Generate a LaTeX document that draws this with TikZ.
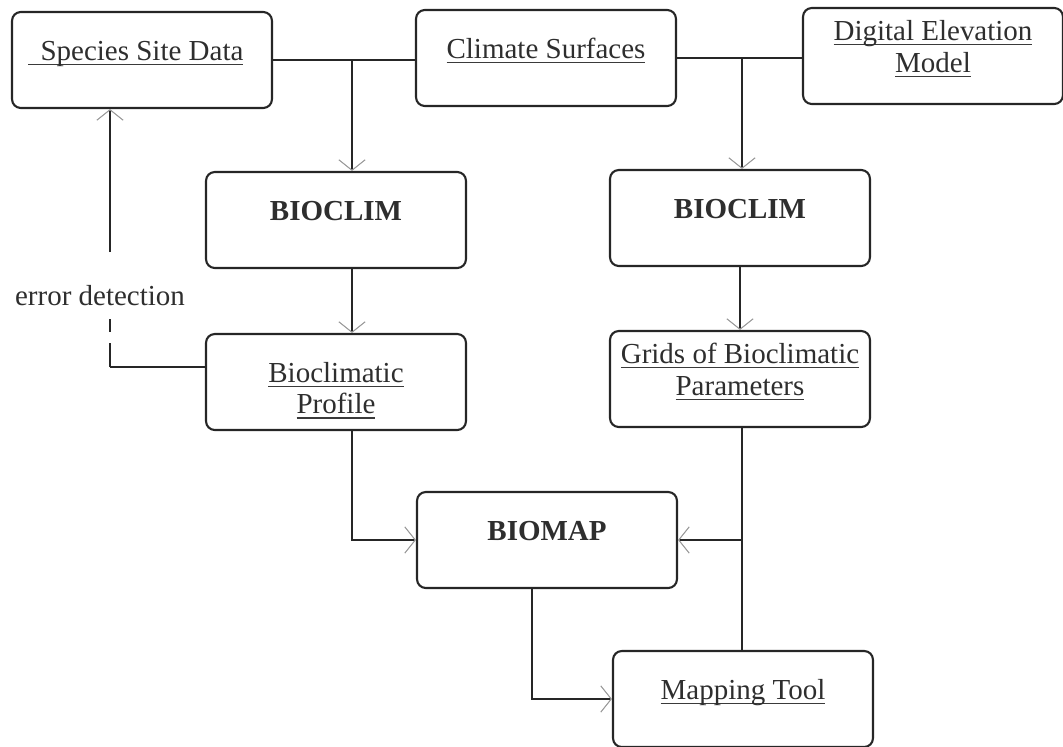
\documentclass[tikz,border=0pt]{standalone}
\usepackage{fontspec}
\setmainfont{Liberation Serif}
\usetikzlibrary{arrows.meta,positioning,calc}
\definecolor{ink}{HTML}{262626}
\definecolor{txt}{HTML}{2E2E2E}
\definecolor{barb}{HTML}{9A9A9A}
\definecolor{ulc}{HTML}{3A3A3A}
\newsavebox\ulbox
\newcommand{\undl}[1]{\leavevmode\sbox\ulbox{\spaceskip=0pt\xspaceskip=0pt #1}\rlap{\textcolor{ulc}{\rule[-2.8pt]{\wd\ulbox}{0.8pt}}}\usebox\ulbox}
\tikzset{
  box/.style={draw=ink,line width=1.2pt,rounded corners=5pt,minimum width=5.2cm,minimum height=1.92cm,text width=4.9cm,align=center,inner sep=0pt,text height=14pt,text depth=14pt,font=\fontsize{16.5}{18.2}\selectfont,text=txt},
  boxhi/.style={box,text height=5pt,text depth=23pt},
  wire/.style={draw=ink,line width=0.9pt},
  flow/.style={wire,-{Straight Barb[length=6pt,width=15pt,line width=0.6pt,color=barb]}},
  lab/.style={font=\fontsize{16.5}{19}\selectfont,text=txt,inner sep=1pt}
}
\begin{document}
\begin{tikzpicture}[x=0.02cm,y=-0.02cm]
\useasboundingbox (0,0) rectangle (1063,747);
% ---------------- input row ----------------
\node[box] (species) at (142,60) {\leavevmode\llap{\textcolor{ulc}{\rule[-2.8pt]{7pt}{0.8pt}}}\undl{Species Site Data}};
\node[box] (climate) at (546,58) {\undl{Climate Surfaces}};
\node[boxhi] (dem) at (933,56) {\undl{Digital Elevation}\\\undl{Model}};
% ---------------- models ----------------
\node[box] (bioclimL) at (336,220) {\textbf{BIOCLIM}};
\node[box] (bioclimR) at (740,218) {\textbf{BIOCLIM}};
\node[box] (profile) at (336,382) {\undl{Bioclimatic}\\\undl{Profile}};
\node[boxhi] (grids) at (740,379) {\undl{Grids of Bioclimatic}\\\undl{Parameters}};
\node[box] (biomap) at (547,540) {\textbf{BIOMAP}};
\node[box] (mapping) at (743,699) {\undl{Mapping Tool}};
\node[lab] (err) at (100,296) {error detection};
% ---------------- junctions ----------------
\coordinate (jL) at (352,60);
\coordinate (jR) at (742,58);
\coordinate (ecorner) at (110,367);
\coordinate (etop) at (110,252);
% ---------------- connectors ----------------
\draw[wire] (species.east) -- (species.east -| climate.west);
\draw[wire] (climate.east) -- (climate.east -| dem.west);
\draw[flow] (jL) -- (jL |- bioclimL.north);
\draw[flow] (jR) -- (jR |- bioclimR.north);
\draw[flow] (bioclimL.south -| jL) -- (profile.north -| jL);
\draw[flow] (bioclimR.south) -- (grids.north);
\draw[flow] (profile.south -| jL) |- (biomap.west);
\draw[wire] (grids.south -| jR) -- (mapping.north -| jR);
\draw[flow] (biomap.east -| jR) -- (biomap.east);
\draw[flow] ([xshift=-0.3cm]biomap.south) |- (mapping.west);
% error detection loop
\draw[wire] (ecorner -| profile.west) -- (ecorner);
\draw[wire,dash pattern=on 13.7pt off 6.3pt on 7.4pt off 20pt] (ecorner) -- ++(0,-48);
\draw[flow] (etop) -- (etop |- species.south);
\end{tikzpicture}
\end{document}
